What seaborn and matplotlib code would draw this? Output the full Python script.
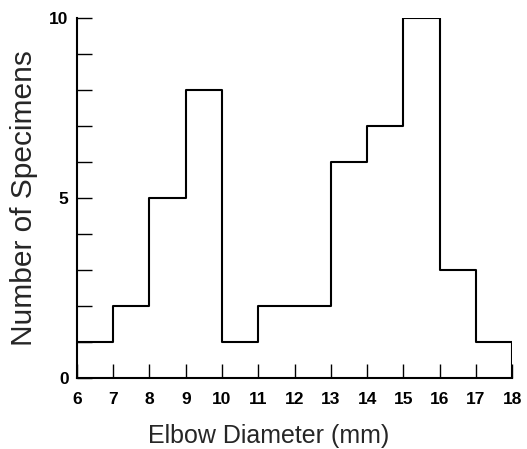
import matplotlib
matplotlib.use("Agg")
import matplotlib.pyplot as plt
import seaborn as sns
import numpy as np

# bins are 1 mm wide, from 6 to 18 mm
bin_edges = [6, 7, 8, 9, 10, 11, 12, 13, 14, 15, 16, 17, 18]
bin_centers = [6.5, 7.5, 8.5, 9.5, 10.5, 11.5, 12.5, 13.5, 14.5, 15.5, 16.5, 17.5]
counts = [1, 2, 5, 8, 1, 2, 2, 6, 7, 10, 3, 1]
x_ticks = [6, 7, 8, 9, 10, 11, 12, 13, 14, 15, 16, 17, 18]
y_ticks = [0, 5, 10]

sns.set_style("ticks")
plt.rcParams['font.family'] = ['Liberation Sans', 'DejaVu Sans']

fig = plt.figure(figsize=(5.27, 4.49), dpi=100)
ax = fig.add_axes([0.146, 0.158, 0.826, 0.802])

sns.histplot(x=bin_centers, weights=counts, bins=bin_edges, element="step",
             fill=False, color="black", linewidth=1.5, ax=ax)
# close the outline at the right edge
ax.vlines(bin_edges[-1], 0, counts[-1], color="black", linewidth=1.5)

ax.set_xlim(bin_edges[0], bin_edges[-1])
ax.set_ylim(0, 10)
ax.set_xticks(x_ticks)
ax.set_yticks(y_ticks)
ax.set_yticks(range(0, 11), minor=True)

sns.despine(ax=ax)
for side in ["left", "bottom"]:
    ax.spines[side].set_linewidth(1.5)
    ax.spines[side].set_color("black")

ax.tick_params(axis="x", which="major", direction="in", length=10, width=1,
               pad=10, labelsize=12.5, colors="black")
ax.tick_params(axis="y", which="both", direction="in", length=11, width=1,
               pad=6, labelsize=12.5, colors="black")
for lab in ax.get_xticklabels() + ax.get_yticklabels():
    lab.set_fontweight("bold")

ax.set_xlabel("Elbow Diameter (mm)", fontsize=18, labelpad=12)
ax.xaxis.label.set_x(0.44)  # label sits a bit left of centre in the original
ax.set_ylabel("Number of Specimens", fontsize=21.5, labelpad=8)

fig.savefig("out.png", dpi=100)
